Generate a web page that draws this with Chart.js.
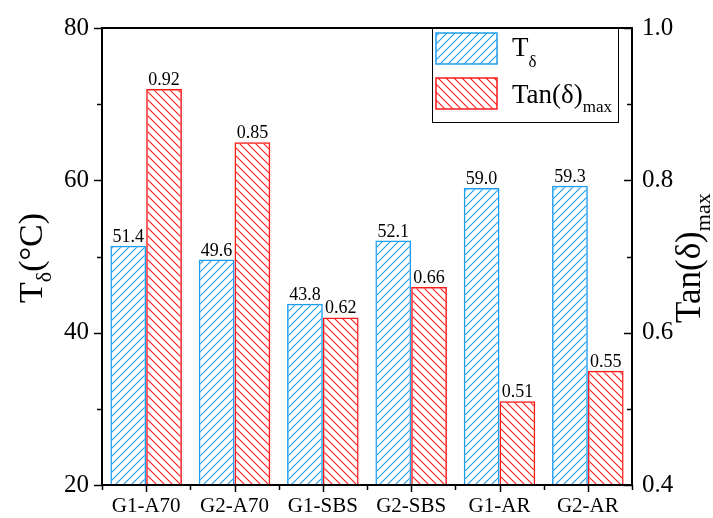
<!DOCTYPE html>
<html>
<head>
<meta charset="utf-8">
<script src="https://cdn.jsdelivr.net/npm/chart.js@4.4.0/dist/chart.umd.min.js"></script>
<style>
  html, body { margin: 0; padding: 0; background: #fff; }
  #wrap { width: 713px; height: 518px; }
</style>
</head>
<body>
<div id="wrap"><canvas id="c" width="713" height="518"></canvas></div>
<script>
// Samples and measured values
const categories = ['G1-A70', 'G2-A70', 'G1-SBS', 'G2-SBS', 'G1-AR', 'G2-AR'];
const tDelta = [51.4, 49.6, 43.8, 52.1, 59.0, 59.3];          // T_delta (°C), left axis
const tanDeltaMax = [0.92, 0.85, 0.62, 0.66, 0.51, 0.55];     // Tan(delta)max, right axis
const leftTicks = [20, 40, 60, 80];
const rightTicks = [0.4, 0.6, 0.8, 1.0];

const SERIF = '"Liberation Serif", "Times New Roman", serif';
const BLUE = '#1E9EF0';
const RED = '#FF1A1A';

// Diagonal hatch fill
function hatch(color, forward) {
  const s = 8;
  const c = document.createElement('canvas');
  c.width = s; c.height = s;
  const g = c.getContext('2d');
  g.strokeStyle = color;
  g.lineWidth = 1.1;
  g.beginPath();
  if (forward) {
    g.moveTo(-1, s + 1); g.lineTo(s + 1, -1);
    g.moveTo(-1, 1); g.lineTo(1, -1);
    g.moveTo(s - 1, s + 1); g.lineTo(s + 1, s - 1);
  } else {
    g.moveTo(-1, -1); g.lineTo(s + 1, s + 1);
    g.moveTo(-1, s - 1); g.lineTo(1, s + 1);
    g.moveTo(s - 1, -1); g.lineTo(s + 1, 1);
  }
  g.stroke();
  return g.createPattern(c, 'repeat');
}
const blueHatch = hatch(BLUE, true);
const redHatch = hatch(RED, false);

// Draws text with a lowered subscript part; returns advance
function drawSub(ctx, x, y, main, sub, mainSize, subSize, drop, tail) {
  ctx.font = mainSize + 'px ' + SERIF;
  ctx.fillText(main, x, y);
  let w = ctx.measureText(main).width;
  ctx.font = subSize + 'px ' + SERIF;
  ctx.fillText(sub, x + w, y + drop);
  w += ctx.measureText(sub).width;
  if (tail) {
    ctx.font = mainSize + 'px ' + SERIF;
    ctx.fillText(tail, x + w, y);
    w += ctx.measureText(tail).width;
  }
  return w;
}

const framePlugin = {
  id: 'frame',
  afterDatasetsDraw(chart) {
    const ctx = chart.ctx;
    // value labels above bars
    ctx.save();
    ctx.fillStyle = '#000';
    ctx.font = '18px ' + SERIF;
    ctx.textAlign = 'center';
    ctx.textBaseline = 'alphabetic';
    chart.data.datasets.forEach((ds, i) => {
      const meta = chart.getDatasetMeta(i);
      meta.data.forEach((bar, j) => {
        const v = ds.data[j];
        const txt = i === 0 ? v.toFixed(1) : v.toFixed(2);
        ctx.fillText(txt, bar.x, bar.y - 4);
      });
    });
    ctx.restore();
  },
  afterDraw(chart) {
    const ctx = chart.ctx;
    const a = chart.chartArea;
    const x = chart.scales.x, y = chart.scales.y, y1 = chart.scales.y1;
    ctx.save();
    ctx.strokeStyle = '#000';
    ctx.fillStyle = '#000';

    // tick marks
    ctx.lineWidth = 1.5;
    ctx.beginPath();
    for (let v = 20; v <= 80; v += 10) {
      const py = Math.round(y.getPixelForValue(v)) + 0.5;
      const len = v % 20 === 0 ? 8 : 5;
      ctx.moveTo(a.left - len, py); ctx.lineTo(a.left, py);
    }
    for (let k = 4; k <= 10; k++) {
      const py = Math.round(y1.getPixelForValue(k / 10)) + 0.5;
      const len = k % 2 === 0 ? 8 : 5;
      ctx.moveTo(a.right - len, py); ctx.lineTo(a.right, py);
    }
    for (let i = 0; i < categories.length; i++) {
      const px = Math.round(x.getPixelForValue(i)) + 0.5;
      ctx.moveTo(px, a.bottom); ctx.lineTo(px, a.bottom + 7);
    }
    for (let i = 0; i <= categories.length; i++) {
      const px = Math.round(x.getPixelForValue(i - 0.5)) + 0.5;
      ctx.moveTo(px, a.bottom); ctx.lineTo(px, a.bottom + 5);
    }
    ctx.stroke();

    // frame
    ctx.lineWidth = 2;
    ctx.strokeRect(a.left, a.top, a.right - a.left, a.bottom - a.top);

    // left axis title
    ctx.save();
    ctx.translate(42, 303);
    ctx.rotate(-Math.PI / 2);
    ctx.textAlign = 'left';
    ctx.textBaseline = 'alphabetic';
    drawSub(ctx, 0, 0, 'T', 'δ', 34, 22, 9, '(°C)');
    ctx.restore();

    // right axis title
    ctx.save();
    ctx.translate(700, 323);
    ctx.rotate(-Math.PI / 2);
    ctx.textAlign = 'left';
    ctx.textBaseline = 'alphabetic';
    drawSub(ctx, 0, 0, 'Tan(δ)', 'max', 35, 22, 10);
    ctx.restore();

    // legend
    const lx = 432, ly = a.top, lw = 186, lh = 94;
    ctx.fillStyle = '#fff';
    ctx.fillRect(lx, ly, lw, lh);
    ctx.lineWidth = 1;
    ctx.strokeStyle = '#000';
    ctx.strokeRect(lx + 0.5, ly + 0.5, lw, lh);
    const sw = [[blueHatch, BLUE, 33], [redHatch, RED, 78]];
    sw.forEach(([pat, col, top]) => {
      ctx.fillStyle = pat;
      ctx.fillRect(436, top, 61, 31);
      ctx.strokeStyle = col;
      ctx.lineWidth = 1.5;
      ctx.strokeRect(436, top, 61, 31);
    });
    ctx.fillStyle = '#000';
    ctx.textAlign = 'left';
    ctx.textBaseline = 'alphabetic';
    drawSub(ctx, 512, 56, 'T', 'δ', 27, 17, 11);
    drawSub(ctx, 512, 103, 'Tan(δ)', 'max', 27, 17, 9);
    ctx.restore();
  }
};

new Chart(document.getElementById('c'), {
  type: 'bar',
  data: {
    labels: categories,
    datasets: [
      {
        label: 'Tδ',
        data: tDelta,
        yAxisID: 'y',
        backgroundColor: blueHatch,
        borderColor: BLUE,
        borderWidth: 1.5,
        borderSkipped: false
      },
      {
        label: 'Tan(δ)max',
        data: tanDeltaMax,
        yAxisID: 'y1',
        backgroundColor: redHatch,
        borderColor: RED,
        borderWidth: 1.5,
        borderSkipped: false
      }
    ]
  },
  options: {
    responsive: false,
    animation: false,
    devicePixelRatio: 1,
    layout: { padding: { top: 25, left: 0, right: 0, bottom: 0 } },
    categoryPercentage: 0.81,
    barPercentage: 1.0,
    plugins: { legend: { display: false }, tooltip: { enabled: false } },
    scales: {
      x: {
        offset: true,
        grid: { display: false, drawTicks: false },
        border: { display: false },
        ticks: { color: '#000', font: { family: SERIF, size: 21 }, padding: 9, maxRotation: 0 },
        afterFit: s => { s.height = 33; }
      },
      y: {
        position: 'left',
        min: 20, max: 80,
        afterBuildTicks: s => { s.ticks = leftTicks.map(v => ({ value: v })); },
        grid: { display: false, drawTicks: false },
        border: { display: false },
        ticks: { color: '#000', font: { family: SERIF, size: 25 }, padding: 13 },
        afterFit: s => { s.width = 102; }
      },
      y1: {
        position: 'right',
        min: 0.4, max: 1.0,
        afterBuildTicks: s => { s.ticks = rightTicks.map(v => ({ value: v })); },
        grid: { display: false, drawTicks: false },
        border: { display: false },
        ticks: { color: '#000', font: { family: SERIF, size: 25 }, padding: 10,
                 callback: v => Number(v).toFixed(1) },
        afterFit: s => { s.width = 81; }
      }
    }
  },
  plugins: [framePlugin]
});
</script>
</body>
</html>
